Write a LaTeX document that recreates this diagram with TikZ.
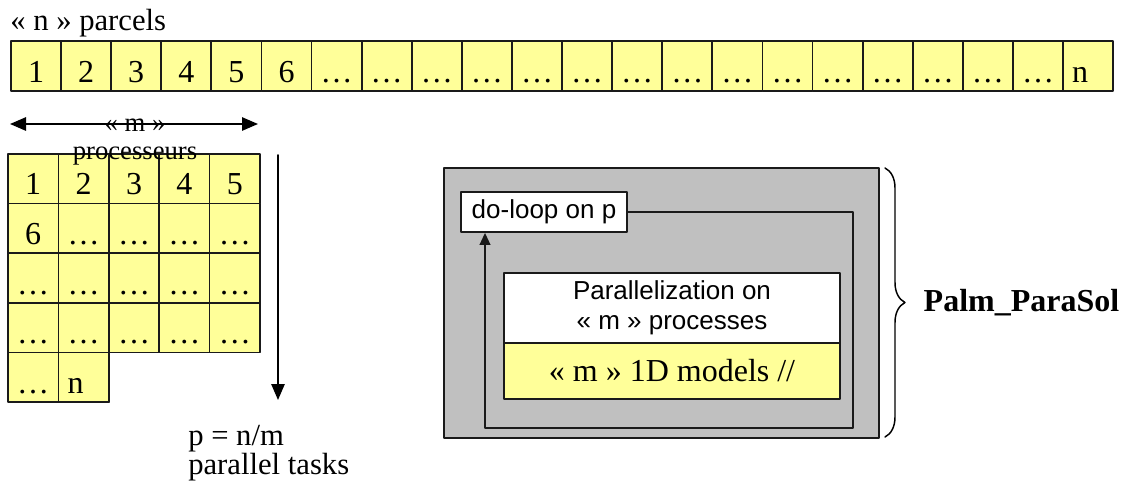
\documentclass[tikz,border=0pt]{standalone}
\usepackage{fontspec}
\setmainfont{Liberation Serif}
\setsansfont{Liberation Sans}
\usetikzlibrary{arrows.meta, decorations.pathreplacing, calc}
\definecolor{y1}{HTML}{FFFF99}
\definecolor{g1}{HTML}{C0C0C0}
\definecolor{b}{HTML}{1A1A1A}

\begin{document}
\begin{tikzpicture}[x=0.75pt, y=-0.75pt, line cap=round, line join=round,
    serif/.style={font=\fontsize{23}{18}\selectfont},
    sans/.style={font=\sffamily\fontsize{19.5}{22.5}\selectfont},
    cell/.style={draw=b, fill=y1, line width=1.3pt, inner sep=0pt,
        minimum width=37.6pt, minimum height=37.5pt,
        text height=24pt, text depth=0pt, font=\fontsize{24}{28}\selectfont},
    gcell/.style={cell, minimum width=37.8pt, minimum height=37.2pt},
    lastcell/.style={text width=24pt, align=left},
    boxline/.style={draw=b, line width=1.3pt},
    tip/.style={-{Triangle[length=12pt, width=10pt]}, line width=1.3pt}]

    \useasboundingbox (0,0) rectangle (1128,486);

    % Cell sizes (in px of the picture)
    \def\cw{50.1}   % width of a parcel
    \def\gw{50.4}   % width of a processor column
    \def\gh{49.6}   % height of a task row

    % The n parcels in a row
    \node[serif, anchor=base west, inner sep=0pt] (title) at (10,30) {« n » parcels};
    \foreach \i in {1,...,21} {
        \ifnum\i<7 \def\lbl{\i}\else\def\lbl{\dots}\fi
        \node[cell] (p\i) at ({36+\cw*(\i-1)},66) {\lbl};
    }
    \node[cell, lastcell] (pn) at ({36+\cw*21},66) {n};

    % m processors across
    \coordinate (mL) at (10,124);
    \coordinate (mR) at (258,124);
    \draw[{Triangle[length=12pt, width=10pt]}-{Triangle[length=12pt, width=10pt]}, line width=1.3pt] (mL) -- (mR);

    % Parcels spread over the processors
    \foreach \k in {0,...,21} {
        \pgfmathtruncatemacro\row{int(\k/5)}
        \pgfmathtruncatemacro\col{mod(\k,5)}
        \pgfmathtruncatemacro\num{\k+1}
        \ifnum\k<6 \def\lbl{\num}\else\def\lbl{\dots}\fi
        \node[gcell] (q\num) at ({33.2+\gw*\col},{178.8+\gh*\row}) {\lbl};
    }
    \node[gcell, lastcell] (qn) at ({33.2+\gw},{178.8+\gh*4}) {n};

    % label written over the arrow and the grid
    \node[font=\fontsize{20}{21}\selectfont, align=center, inner sep=0pt] (mlabel) at (135,142) {« m »\\processeurs};

    % p tasks downwards
    \coordinate (pTop) at (278,155);
    \coordinate (pBot) at (278,400);
    \draw[tip] (pTop) -- (pBot);
    \node[serif, align=left, anchor=north west, inner sep=0pt] (ptext) at (188,425) {p = n/m\\parallel tasks};

    % Palm_ParaSol block
    \coordinate (oTL) at (444,168);
    \coordinate (oBR) at (879,438);
    \draw[boxline, fill=g1] (oTL) rectangle (oBR);

    \node[boxline, fill=white, sans, inner sep=0pt, minimum width=124.5pt, minimum height=30pt] (loop) at (544,212) {do-loop on p};

    \node[boxline, fill=white, sans, align=center, inner sep=0pt, minimum width=252pt, minimum height=52.5pt] (par) at (672,308) {Parallelization on\\« m » processes};
    \node[boxline, fill=y1, font=\fontsize{24}{28}\selectfont, inner sep=0pt, minimum width=252pt, minimum height=42pt] (models) at (672,371) {« m » 1D models //};

    % the loop back to do-loop
    \coordinate (lTR) at (853,212);
    \coordinate (lBR) at (853,428);
    \coordinate (lBL) at (485,428);
    \draw[line width=1.3pt, draw=b, -{Triangle[length=9pt, width=8pt]}] (loop.east) -- (lTR) -- (lBR) -- (lBL) -- (lBL |- loop.south);

    % brace and name
    \coordinate (bTop) at (885,168);
    \coordinate (bBot) at (885,437);
    \draw[decorate, decoration={brace, amplitude=15pt}, line width=1.1pt] (bTop) -- (bBot)
        node[midway, anchor=west, inner sep=0pt, xshift=28.5pt, font=\bfseries\fontsize{24}{28}\selectfont] (palm) {Palm\_ParaSol};

\end{tikzpicture}
\end{document}
